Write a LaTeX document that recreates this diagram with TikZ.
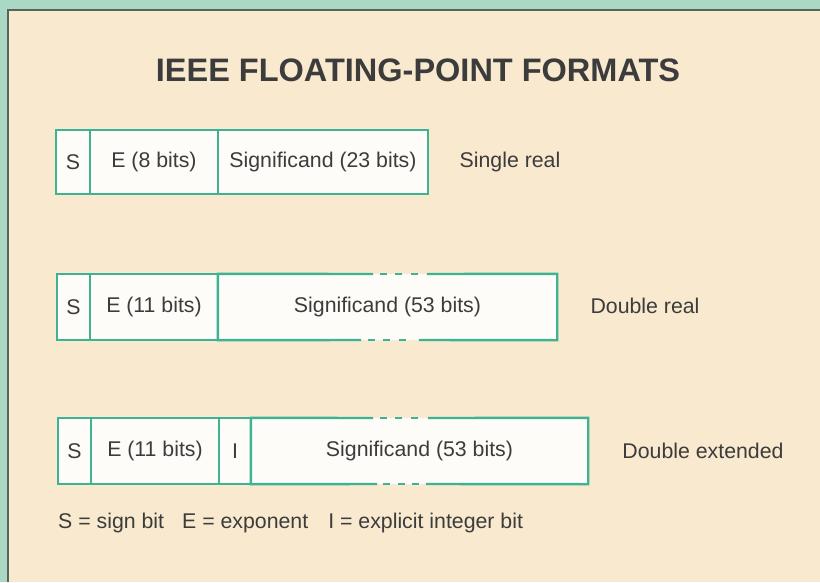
\documentclass[tikz,border=0pt]{standalone}
\usepackage{fontspec}
\setmainfont{Liberation Sans}
\definecolor{outergreen}{HTML}{A9D9C4}
\definecolor{paper}{HTML}{F8E9CF}
\definecolor{boxline}{HTML}{3DB394}
\definecolor{boxfill}{HTML}{FDFCF8}
\definecolor{ink}{HTML}{3C3C3C}
\definecolor{frameline}{HTML}{55655C}
\begin{document}
\begin{tikzpicture}[x=1pt,y=-1pt,
  field/.style={draw=boxline, fill=boxfill, line width=2.4pt, inner sep=0pt,
    text=ink, font=\fontsize{21.3}{25}\selectfont},
  openfield/.style={fill=boxfill, inner sep=0pt, text=ink, font=\fontsize{21.3}{25}\selectfont},
  edge/.style={draw=boxline, line width=2.4pt},
  label/.style={text=ink, inner sep=0pt, font=\fontsize{21.3}{25}\selectfont}]
\useasboundingbox (0,0) rectangle (820,582);
\fill[outergreen] (0,0) rectangle (820,582);
\fill[paper] (8,10) rectangle (820,582);
\draw[frameline, line width=1.6pt] (8,582) -- (8,10) -- (820,10);

\node[text=ink, font=\fontsize{32.5}{38}\selectfont\bfseries] (title) at (418,70) {IEEE FLOATING-POINT FORMATS};

% Row 1: single real
\node[field, minimum width=34pt, minimum height=64pt] (s1) at (73,162) {S};
\node[field, minimum width=128pt, minimum height=64pt] (e1) at (154,162) {E (8 bits)};
\node[field, minimum width=210pt, minimum height=64pt] (m1) at (323,162) {Significand (23 bits)};
\node[label] (l1) at (510,162) {Single real};

% Row 2: double real
\node[field, minimum width=33pt, minimum height=66pt] (s2) at (73.5,307) {S};
\node[field, minimum width=128pt, minimum height=66pt] (e2) at (154,307) {E (11 bits)};
\node[openfield, minimum width=339pt, minimum height=66pt] (m2) at (387.5,307) {Significand (53 bits)};
\node[label] (l2) at (645,306) {Double real};
\coordinate (m2ta) at (372,274); \coordinate (m2tb) at (428,274);
\coordinate (m2ba) at (360,340); \coordinate (m2bb) at (420,340);
\draw[edge, line cap=rect] (m2ta) -- (m2.north west) -- (m2.south west) -- (m2ba);
\draw[edge, line cap=rect] (m2tb) -- (m2.north east) -- (m2.south east) -- (m2bb);
\draw[edge] (380,274) -- (387,274) (395,274) -- (402,274) (411,274) -- (418,274);
\draw[edge] (368,340) -- (375,340) (383,340) -- (390,340) (399,340) -- (406,340);

% Row 3: double extended
\node[field, minimum width=33pt, minimum height=66pt] (s3) at (74.5,451) {S};
\node[field, minimum width=128pt, minimum height=66pt] (e3) at (155,451) {E (11 bits)};
\node[field, minimum width=32pt, minimum height=66pt] (i3) at (235,451) {I};
\node[openfield, minimum width=337pt, minimum height=66pt] (m3) at (419.5,451) {Significand (53 bits)};
\node[label] (l3) at (703,451) {Double extended};
\coordinate (m3ta) at (372,418); \coordinate (m3tb) at (429,418);
\coordinate (m3ba) at (376,484); \coordinate (m3bb) at (427,484);
\draw[edge, line cap=rect] (m3ta) -- (m3.north west) -- (m3.south west) -- (m3ba);
\draw[edge, line cap=rect] (m3tb) -- (m3.north east) -- (m3.south east) -- (m3bb);
\draw[edge] (380,418) -- (387,418) (395,418) -- (402,418) (411,418) -- (418,418);
\draw[edge] (383,484) -- (390,484) (398,484) -- (405,484) (412,484) -- (419,484);

% Legend
\node[label, anchor=west] (legend) at (58,523) {S = sign bit\hspace{18pt}E = exponent\hspace{20pt}I = explicit integer bit};
\end{tikzpicture}
\end{document}
